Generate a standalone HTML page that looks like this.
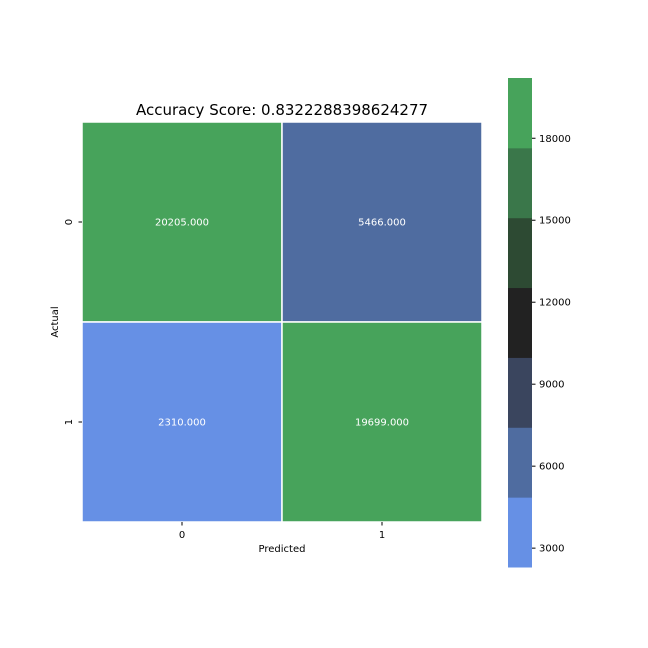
<!DOCTYPE html>
<html><head><meta charset="utf-8"><style>
body{margin:0;background:#fff;}
svg{display:block;font-family:"DejaVu Sans","Liberation Sans",sans-serif;}
</style></head><body>
<svg id="c" width="648" height="648">
<text x="282" y="115" font-size="15" text-anchor="middle">Accuracy Score: 0.8322288398624277</text>
<g id="cells"></g>
<g id="cbar"></g>
<text x="282" y="552" font-size="10" text-anchor="middle">Predicted</text>
<text x="58" y="322" font-size="10" text-anchor="middle" transform="rotate(-90 58 322)">Actual</text>
</svg>
<script>
const rowLabels=["0","1"];
const colLabels=["0","1"];
const values=[[20205,5466],[2310,19699]];
const cbTicks=[3000,6000,9000,12000,15000,18000];
const palette=["#6690e5","#4f6ca0","#3a455e","#222222","#2d4a33","#3a774a","#47a35b"];
const NS="http://www.w3.org/2000/svg";
const svg=document.getElementById('c');
const cells=document.getElementById('cells');
const cbar=document.getElementById('cbar');
function mk(t,a,p){const e=document.createElementNS(NS,t);for(const k in a)e.setAttribute(k,a[k]);(p||svg).appendChild(e);return e;}
const flat=values.flat();
const vmin=Math.min(...flat),vmax=Math.max(...flat);
function color(v){let i=Math.floor((v-vmin)/(vmax-vmin)*palette.length);return palette[Math.max(0,Math.min(palette.length-1,i))];}
const X0=82,Y0=122,W=400,H=400;
const cw=W/colLabels.length,ch=H/rowLabels.length;
values.forEach((row,r)=>row.forEach((v,c)=>{
  const rect=mk('rect',{x:X0+c*cw,y:Y0+r*ch,width:cw,height:ch,fill:color(v),stroke:'#fff','stroke-width':1.5},cells);
  
  
  const t=mk('text',{x:X0+c*cw+cw/2,y:Y0+r*ch+ch/2+3.5,'font-size':10,fill:'#fff','text-anchor':'middle'},cells);
  t.textContent=v.toFixed(3);
  
  
}));
colLabels.forEach((l,c)=>{
  const x=X0+c*cw+cw/2;
  mk('line',{x1:x,x2:x,y1:Y0+H,y2:Y0+H+3.5,stroke:'#000'});
  const t=mk('text',{x:x,y:Y0+H+16,'font-size':10,'text-anchor':'middle'});
  t.textContent=l;
  
  
});
rowLabels.forEach((l,r)=>{
  const y=Y0+r*ch+ch/2;
  mk('line',{x1:X0-3.5,x2:X0,y1:y,y2:y,stroke:'#000'});
  const t=mk('text',{x:X0-10,y:y,'font-size':10,'text-anchor':'middle',transform:'rotate(-90 '+(X0-10)+' '+y+')'});
  t.textContent=l;
  
  
});
const CX=508,CW=24,CT=78,CB=567;
function cy(v){return CB-(v-vmin)/(vmax-vmin)*(CB-CT);}
palette.forEach((col,i)=>{
  const a=vmin+(vmax-vmin)*i/palette.length,b=vmin+(vmax-vmin)*(i+1)/palette.length;
  const r=mk('rect',{x:CX,y:cy(b),width:CW,height:cy(a)-cy(b)+0.5,fill:col},cbar);
  
  
});
cbTicks.forEach(v=>{
  const y=cy(v);
  mk('line',{x1:CX+CW,x2:CX+CW+3.5,y1:y,y2:y,stroke:'#000'},cbar);
  const t=mk('text',{x:CX+CW+7,y:y+3.5,'font-size':10},cbar);
  t.textContent=v;
  
  
});
</script>
</body></html>
